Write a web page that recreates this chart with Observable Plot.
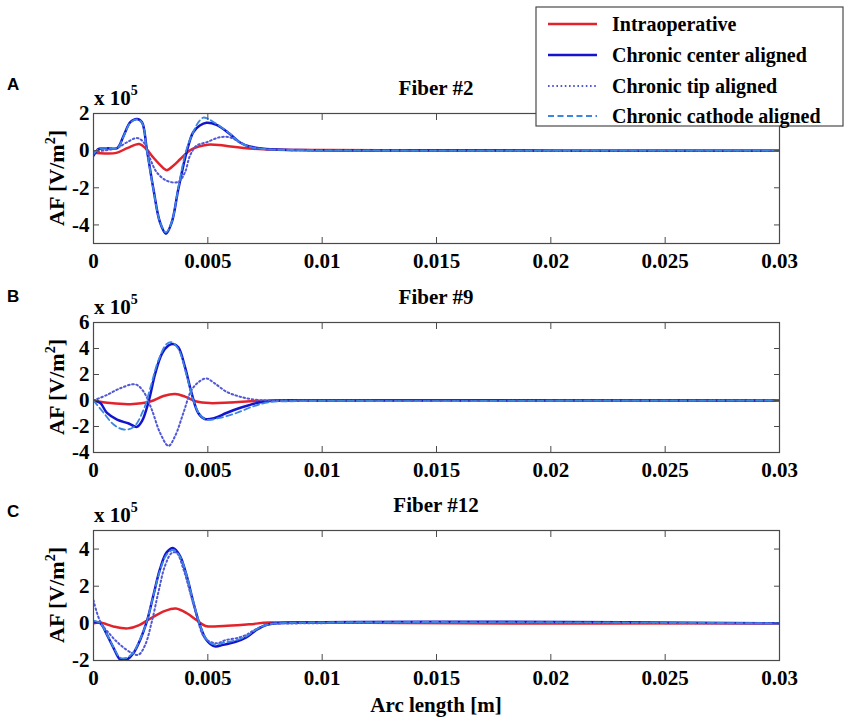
<!DOCTYPE html>
<html><head><meta charset="utf-8">
<script src="https://cdn.jsdelivr.net/npm/d3@7"></script>
<script src="https://cdn.jsdelivr.net/npm/@observablehq/plot@0.6"></script>
<style>
body{margin:0;background:#fff;}
#wrap{position:relative;width:850px;height:723px;overflow:hidden;background:#fff;}
#wrap > svg{position:absolute;left:0;top:0;}
</style></head><body><div id="wrap"></div>
<script>
// ---------- data (y values in units of 1e5 V/m^2, x in m) ----------
const xTicks = [0, 0.005, 0.01, 0.015, 0.02, 0.025, 0.03];
const xTickLabels = ["0", "0.005", "0.01", "0.015", "0.02", "0.025", "0.03"];
const seriesNames = ["Intraoperative", "Chronic center aligned", "Chronic tip aligned", "Chronic cathode aligned"];
const panelLetters = ["A", "B", "C"];
const panelTitles = ["Fiber #2", "Fiber #9", "Fiber #12"];
const yDomainA = [-5, 2], yTicksA = [-4, -2, 0, 2];
const yDomainB = [-4, 6], yTicksB = [-4, -2, 0, 2, 4, 6];
const yDomainC = [-2, 5], yTicksC = [-2, 0, 2, 4];

const A_intra = [[0,-0.12],[0.0005,-0.15],[0.001,-0.12],[0.0015,0.15],[0.002,0.36],[0.0023,0.1],[0.0026,-0.35],[0.0029,-0.75],[0.0032,-1.05],[0.0035,-0.8],[0.0038,-0.45],[0.0042,0],[0.0046,0.22],[0.005,0.32],[0.0055,0.3],[0.006,0.22],[0.007,0.1],[0.008,0.05],[0.01,0.03],[0.014,0.02],[0.018,0.01],[0.02,0],[0.03,0]];
const A_center = [[0,-0.27],[0.00023,0.09],[0.0006,0.13],[0.00103,0.13],[0.00132,0.81],[0.00161,1.53],[0.0019,1.71],[0.00212,1.53],[0.00233,0.09],[0.00262,-2.07],[0.00291,-3.87],[0.00317,-4.47],[0.00342,-3.87],[0.00371,-2.07],[0.00407,-0.09],[0.00436,0.99],[0.00465,1.35],[0.00494,1.5],[0.00538,1.39],[0.00596,0.9],[0.00639,0.45],[0.00683,0.22],[0.00755,0.09],[0.009,0.03],[0.012,0.01],[0.03,0]];
const A_tip = [[0,-0.05],[0.001,0.13],[0.00146,0.45],[0.0019,0.68],[0.00219,0.45],[0.00248,-0.45],[0.00277,-1.17],[0.0032,-1.62],[0.00371,-1.68],[0.004,-1.17],[0.00422,-0.27],[0.00451,0.27],[0.00494,0.45],[0.00552,0.72],[0.00596,0.72],[0.00639,0.45],[0.00683,0.22],[0.0075,0.08],[0.009,0.02],[0.03,0]];
const A_cathode = [[0,-0.2],[0.00023,0.1],[0.0006,0.15],[0.00103,0.12],[0.00132,0.78],[0.00161,1.5],[0.0019,1.68],[0.00212,1.5],[0.00233,0.05],[0.00262,-2.1],[0.00291,-3.85],[0.00317,-4.4],[0.00342,-3.85],[0.00371,-2.0],[0.00405,0],[0.0044,1.1],[0.0046,1.55],[0.0048,1.78],[0.005,1.72],[0.0053,1.5],[0.00596,0.92],[0.00639,0.45],[0.00683,0.2],[0.00755,0.08],[0.009,0.03],[0.012,0.01],[0.03,0]];

const B_intra = [[0,0],[0.00074,-0.2],[0.00161,-0.28],[0.00248,-0.08],[0.00306,0.35],[0.00357,0.5],[0.004,0.3],[0.00451,-0.08],[0.00509,-0.2],[0.00596,-0.15],[0.00712,-0.03],[0.008,0],[0.03,0]];
const B_center = [[0,0],[0.0003,-0.2],[0.00059,-0.96],[0.00103,-1.47],[0.00154,-1.77],[0.0019,-2.03],[0.00212,-1.59],[0.00241,-0.08],[0.0027,2.08],[0.00299,3.59],[0.00328,4.23],[0.00349,4.35],[0.00371,4.1],[0.004,2.58],[0.00429,0.56],[0.00458,-0.96],[0.00487,-1.42],[0.0053,-1.34],[0.00581,-0.96],[0.00639,-0.58],[0.00712,-0.2],[0.0077,-0.03],[0.01,0],[0.03,0]];
const B_tip = [[0,0],[0.00059,0.43],[0.00117,0.94],[0.00183,1.24],[0.00219,0.68],[0.00255,-0.71],[0.00291,-2.48],[0.00328,-3.49],[0.00357,-2.73],[0.00393,-0.96],[0.00429,0.81],[0.00465,1.49],[0.00494,1.7],[0.0053,1.32],[0.00581,0.68],[0.00639,0.3],[0.00712,0.05],[0.008,0],[0.03,0]];
const B_cathode = [[0,0],[0.00045,-0.96],[0.00088,-1.85],[0.00132,-2.23],[0.00175,-2.05],[0.00219,-0.71],[0.00248,0.94],[0.00284,3.09],[0.0032,4.35],[0.00342,4.48],[0.00371,3.97],[0.00407,1.95],[0.00436,0.05],[0.00465,-1.09],[0.00494,-1.47],[0.00552,-1.34],[0.00625,-0.96],[0.00697,-0.46],[0.0077,-0.13],[0.009,-0.05],[0.015,-0.05],[0.02,-0.02],[0.03,0]];

const C_intra = [[0,0],[0.0003,0.04],[0.0009,-0.18],[0.0015,-0.27],[0.002,-0.09],[0.0025,0.27],[0.0031,0.66],[0.0036,0.8],[0.0041,0.53],[0.0045,0.18],[0.0049,-0.14],[0.0057,-0.14],[0.0068,-0.05],[0.0077,0.04],[0.012,0.03],[0.016,0],[0.03,0]];
const C_center = [[0,0.09],[0.0003,0],[0.00059,-0.62],[0.00088,-1.33],[0.00117,-1.95],[0.00146,-1.95],[0.00175,-1.6],[0.00204,-0.89],[0.00233,0.09],[0.00262,1.51],[0.00291,2.93],[0.0032,3.82],[0.00349,4.05],[0.00378,3.64],[0.00407,2.58],[0.00436,1.16],[0.00465,-0.09],[0.00494,-0.89],[0.0053,-1.24],[0.00567,-1.16],[0.00625,-0.98],[0.00668,-0.76],[0.00712,-0.36],[0.00755,-0.09],[0.008,0],[0.03,0]];
const C_tip = [[0,1.24],[0.0003,0.09],[0.00074,-0.62],[0.00117,-1.16],[0.00168,-1.6],[0.00197,-1.69],[0.00226,-1.16],[0.00255,0.09],[0.00284,1.69],[0.00313,3.11],[0.00342,3.79],[0.00364,3.79],[0.00393,2.93],[0.00422,1.69],[0.00451,0.44],[0.00487,-0.8],[0.00538,-1.07],[0.00581,-0.89],[0.00625,-0.8],[0.00668,-0.62],[0.00712,-0.3],[0.0077,-0.05],[0.009,0],[0.03,0]];
const C_cathode = [[0,0.15],[0.0003,0],[0.00059,-0.6],[0.00088,-1.3],[0.00117,-1.85],[0.00146,-1.85],[0.00175,-1.55],[0.00204,-0.85],[0.00233,0.1],[0.00262,1.5],[0.00291,2.85],[0.0032,3.7],[0.00349,3.95],[0.00378,3.6],[0.00407,2.6],[0.00436,1.2],[0.00465,-0.05],[0.00494,-0.85],[0.0053,-1.15],[0.00567,-1.05],[0.00625,-0.9],[0.00668,-0.7],[0.00712,-0.33],[0.00755,-0.08],[0.008,0],[0.03,0]];

// ---------- styles / layout ----------
const seriesStyles = [
  {stroke: "#e3232b", strokeWidth: 2.5},
  {stroke: "#1414cf", strokeWidth: 2.5},
  {stroke: "#5058d6", strokeWidth: 2, strokeDasharray: "1.6,2.6"},
  {stroke: "#3a86e0", strokeWidth: 1.8, strokeDasharray: "6,3.5"}
];
const panels = [
  {top: 113, bottom: 243, domain: yDomainA, ticks: yTicksA, series: [A_intra, A_center, A_tip, A_cathode]},
  {top: 322, bottom: 452, domain: yDomainB, ticks: yTicksB, series: [B_intra, B_center, B_tip, B_cathode]},
  {top: 530, bottom: 660, domain: yDomainC, ticks: yTicksC, series: [C_intra, C_center, C_tip, C_cathode]}
];
const W = 850, H = 723, ML = 93, MR = 71;
const frameColor = "#4a4a4a";
const serif = "'Liberation Serif', 'Times New Roman', serif";

const wrap = document.getElementById("wrap");

panels.forEach(p => {
  const order = [0, 1, 2, 3];
  const chart = Plot.plot({
    width: W, height: H,
    marginLeft: ML, marginRight: MR, marginTop: p.top, marginBottom: H - p.bottom,
    style: {background: "none", fontFamily: serif, fontWeight: "bold", fontSize: "21px", color: "#000", overflow: "visible"},
    x: {domain: [0, 0.03], axis: null},
    y: {domain: p.domain, axis: null},
    marks: [
      ...order.map(i => Plot.line(p.series[i], {x: d => d[0], y: d => d[1], curve: "catmull-rom", clip: true, strokeLinejoin: "round", ...seriesStyles[i]})),
      Plot.frame({stroke: frameColor, strokeWidth: 1.2}),
      Plot.axisX(xTicks, {anchor: "bottom", tickSize: 6, dy: -6, tickFormat: () => "", stroke: frameColor}),
      Plot.axisX(xTicks, {anchor: "top", tickSize: 6, dy: 6, tickFormat: () => "", stroke: frameColor}),
      Plot.axisY(p.ticks, {anchor: "left", tickSize: 6, dx: 6, tickFormat: () => "", stroke: frameColor}),
      Plot.axisY(p.ticks, {anchor: "right", tickSize: 6, dx: -6, tickFormat: () => "", stroke: frameColor}),
      Plot.axisX(xTicks, {anchor: "bottom", tickSize: 0, tickPadding: 10, fill: "#000", tickFormat: d => xTickLabels[xTicks.indexOf(d)]}),
      Plot.axisY(p.ticks, {anchor: "left", tickSize: 0, tickPadding: 4, fill: "#000", tickFormat: d => String(d)})
    ]
  });
  wrap.appendChild(chart);
});

// ---------- overlay texts and legend ----------
const ov = d3.create("svg").attr("width", W).attr("height", H).attr("viewBox", `0 0 ${W} ${H}`)
  .style("font-family", serif).style("font-weight", "bold");
const cx = (ML + (W - MR)) / 2;

panels.forEach((p, k) => {
  ov.append("text").attr("x", 7).attr("y", p.top - [23, 20, 13][k])
    .style("font-family", "'Liberation Sans', Arial, sans-serif").attr("font-size", 17).text(panelLetters[k]);
  ov.append("text").attr("x", cx).attr("y", p.top - 18).attr("text-anchor", "middle").attr("font-size", 21).text(panelTitles[k]);
  const e = ov.append("text").attr("x", 94).attr("y", p.top - 8).attr("font-size", 21);
  e.append("tspan").text("x 10");
  e.append("tspan").attr("dy", -10).attr("font-size", 14).text("5");
  const yl = ov.append("text").attr("transform", `translate(64,${(p.top + p.bottom) / 2}) rotate(-90)`)
    .attr("text-anchor", "middle").attr("font-size", 22);
  yl.append("tspan").text("AF [V/m");
  yl.append("tspan").attr("dy", -9).attr("font-size", 14).text("2");
  yl.append("tspan").attr("dy", 9).text("]");
});
ov.append("text").attr("x", cx).attr("y", 712).attr("text-anchor", "middle").attr("font-size", 21).text("Arc length [m]");

// legend
const lg = ov.append("g");
lg.append("rect").attr("x", 536).attr("y", 7).attr("width", 307).attr("height", 119)
  .attr("fill", "#fff").attr("stroke", frameColor).attr("stroke-width", 1.2);
const rowY = [24, 55, 86, 116];
seriesNames.forEach((name, i) => {
  const s = seriesStyles[i];
  lg.append("line").attr("x1", 548).attr("x2", 597).attr("y1", rowY[i]).attr("y2", rowY[i])
    .attr("stroke", s.stroke).attr("stroke-width", s.strokeWidth).attr("stroke-dasharray", s.strokeDasharray || null);
  lg.append("text").attr("x", 612).attr("y", rowY[i] + 7).attr("font-size", 20).text(name);
});
wrap.appendChild(ov.node());
</script></body></html>
